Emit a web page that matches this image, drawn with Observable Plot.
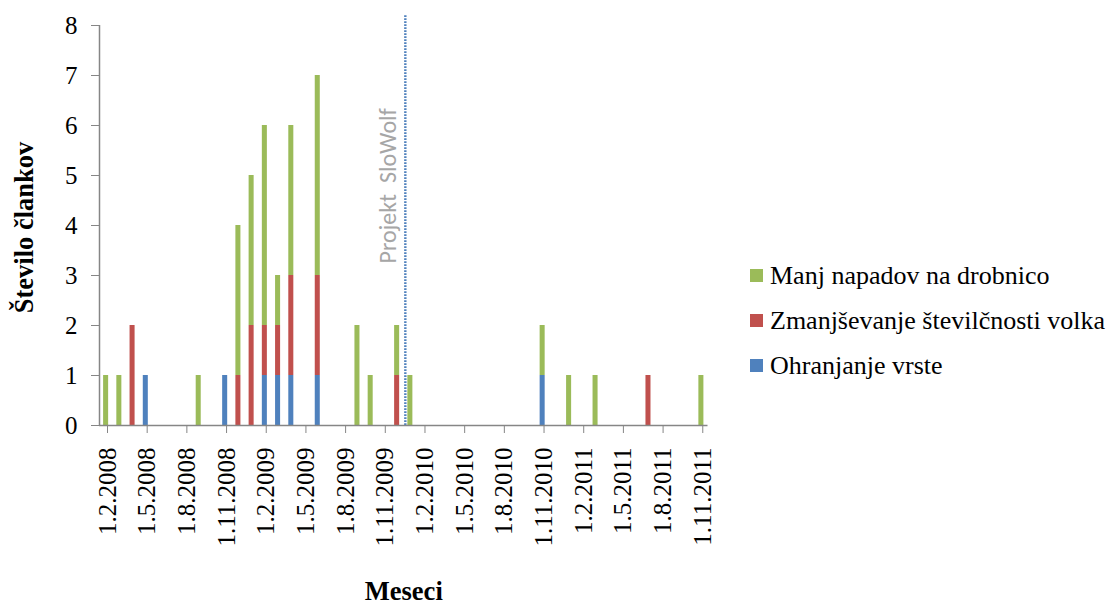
<!DOCTYPE html>
<html>
<head>
<meta charset="utf-8">
<script src="https://cdn.jsdelivr.net/npm/d3@7"></script>
<script src="https://cdn.jsdelivr.net/npm/@observablehq/plot@0.6"></script>
<style>
  body { margin: 0; background: #fff; }
  #wrap { position: relative; width: 1115px; height: 607px; overflow: hidden; }
  .legend { position: absolute; left: 750px; top: 253px; font-family: "Liberation Serif", "Times New Roman", serif; font-size: 26px; color: #000; }
  .legend .row { display: flex; align-items: center; height: 45px; white-space: nowrap; }
  .legend .sw { display: inline-block; width: 13px; height: 13px; margin-right: 7px; }
  svg [aria-label="y-axis tick"], svg [aria-label="x-axis tick"] { stroke: #868686; }
</style>
</head>
<body>
<div id="wrap"></div>
<script>
// ---- data (months with at least one article) ----
const months = ["2008-02","2008-03","2008-04","2008-05","2008-09","2008-11","2008-12",
                "2009-01","2009-02","2009-03","2009-04","2009-06","2009-09","2009-10","2009-12",
                "2010-01","2010-11","2011-01","2011-03","2011-07","2011-11"];
const ohranjanjeVrste = [0,0,0,1,0,1,0, 0,1,1,1,1,0,0,0, 0,1,0,0,0,0];
const zmanjsevanjeStevilcnosti = [0,0,2,0,0,0,1, 2,1,1,2,2,0,0,1, 0,0,0,0,1,0];
const manjNapadov = [1,1,0,0,1,0,3, 3,4,1,3,4,2,1,1, 1,1,1,1,0,1];

const seriesNames = ["Ohranjanje vrste", "Zmanjševanje številčnosti volka", "Manj napadov na drobnico"];
const seriesColors = ["#4f81bd", "#c0504d", "#9bbb59"];
const legendOrder = ["Manj napadov na drobnico", "Zmanjševanje številčnosti volka", "Ohranjanje vrste"];

const xTickLabels = ["1.2.2008","1.5.2008","1.8.2008","1.11.2008","1.2.2009","1.5.2009","1.8.2009","1.11.2009",
                     "1.2.2010","1.5.2010","1.8.2010","1.11.2010","1.2.2011","1.5.2011","1.8.2011","1.11.2011"];
const yTicks = [0,1,2,3,4,5,6,7,8];
const axisStartMonth = "2008-02";
const axisMonthCount = 46;
const projectLinePos = 23.12;   // month index of the project start line
const projectLabel = "Projekt\u00a0 SloWolf";
const projectLabelPos = {x: 21.8, y: 3.24};
const yTitle = "Število člankov";
const xTitle = "Meseci";

// ---- build table ----
function monthIndex(m) {
  const [y, mo] = m.split("-").map(Number);
  const [y0, m0] = axisStartMonth.split("-").map(Number);
  return (y - y0) * 12 + (mo - m0);
}
const seriesValues = [ohranjanjeVrste, zmanjsevanjeStevilcnosti, manjNapadov];
const rows = [];
months.forEach((m, i) => {
  seriesValues.forEach((vals, s) => {
    if (vals[i] > 0) rows.push({i: monthIndex(m), series: seriesNames[s], value: vals[i]});
  });
});

const serif = "'Liberation Serif', 'Times New Roman', serif";
const axisGray = "#868686";
const plot = Plot.plot({
  width: 1115,
  height: 607,
  marginLeft: 99,
  marginRight: 407.5,
  marginTop: 25,
  marginBottom: 182,
  style: {fontFamily: serif, fontSize: "25px", background: "#fff", color: "#000", overflow: "visible"},
  x: {type: "linear", domain: [0, axisMonthCount], axis: null},
  y: {domain: [0, 8], axis: null},
  color: {domain: seriesNames, range: seriesColors},
  marks: [
    Plot.rectY(rows, {x1: d => d.i + 0.31, x2: d => d.i + 0.69, y: "value", fill: "series"}),
    Plot.ruleX([projectLinePos], {y1: 0, y2: 8.2, stroke: "#4f81bd", strokeWidth: 2.4, strokeDasharray: "1.8,1.2"}),
    Plot.text([projectLabel], {x: projectLabelPos.x, y: projectLabelPos.y, rotate: -90, textAnchor: "start",
      fill: "#a6a6a6", fontFamily: "Carlito, Calibri, 'Liberation Sans', sans-serif", fontSize: 24}),
    Plot.ruleY([0], {x1: 0, x2: axisMonthCount, stroke: axisGray, strokeWidth: 1.5}),
    Plot.ruleX([0], {y1: 0, y2: 8, stroke: axisGray, strokeWidth: 1.5}),
    Plot.axisY({ticks: yTicks, label: null, tickSize: 8, tickPadding: 14, tickFormat: d => String(d),
      fontSize: 25, fontFamily: serif}),
    Plot.axisX({ticks: d3.range(0, axisMonthCount, 3), label: null, tickFormat: d => xTickLabels[d / 3], tickRotate: -90,
      tickSize: 8, tickPadding: 14, dx: 8, fontSize: 25, fontFamily: serif}),
    Plot.text([yTitle], {frameAnchor: "left", textAnchor: "middle", lineAnchor: "middle", rotate: -90, dx: -75, dy: 2,
      fontWeight: "bold", fontSize: 26.5, fontFamily: serif}),
    Plot.text([xTitle], {frameAnchor: "bottom", textAnchor: "middle", lineAnchor: "middle", dy: 166,
      fontWeight: "bold", fontSize: 26.5, fontFamily: serif})
  ]
});

const wrap = document.getElementById("wrap");
wrap.appendChild(plot);

const legend = document.createElement("div");
legend.className = "legend";
legendOrder.forEach(name => {
  const row = document.createElement("div");
  row.className = "row";
  const sw = document.createElement("span");
  sw.className = "sw";
  sw.style.background = seriesColors[seriesNames.indexOf(name)];
  row.appendChild(sw);
  row.appendChild(document.createTextNode(name));
  legend.appendChild(row);
});
wrap.appendChild(legend);
</script>
</body>
</html>
